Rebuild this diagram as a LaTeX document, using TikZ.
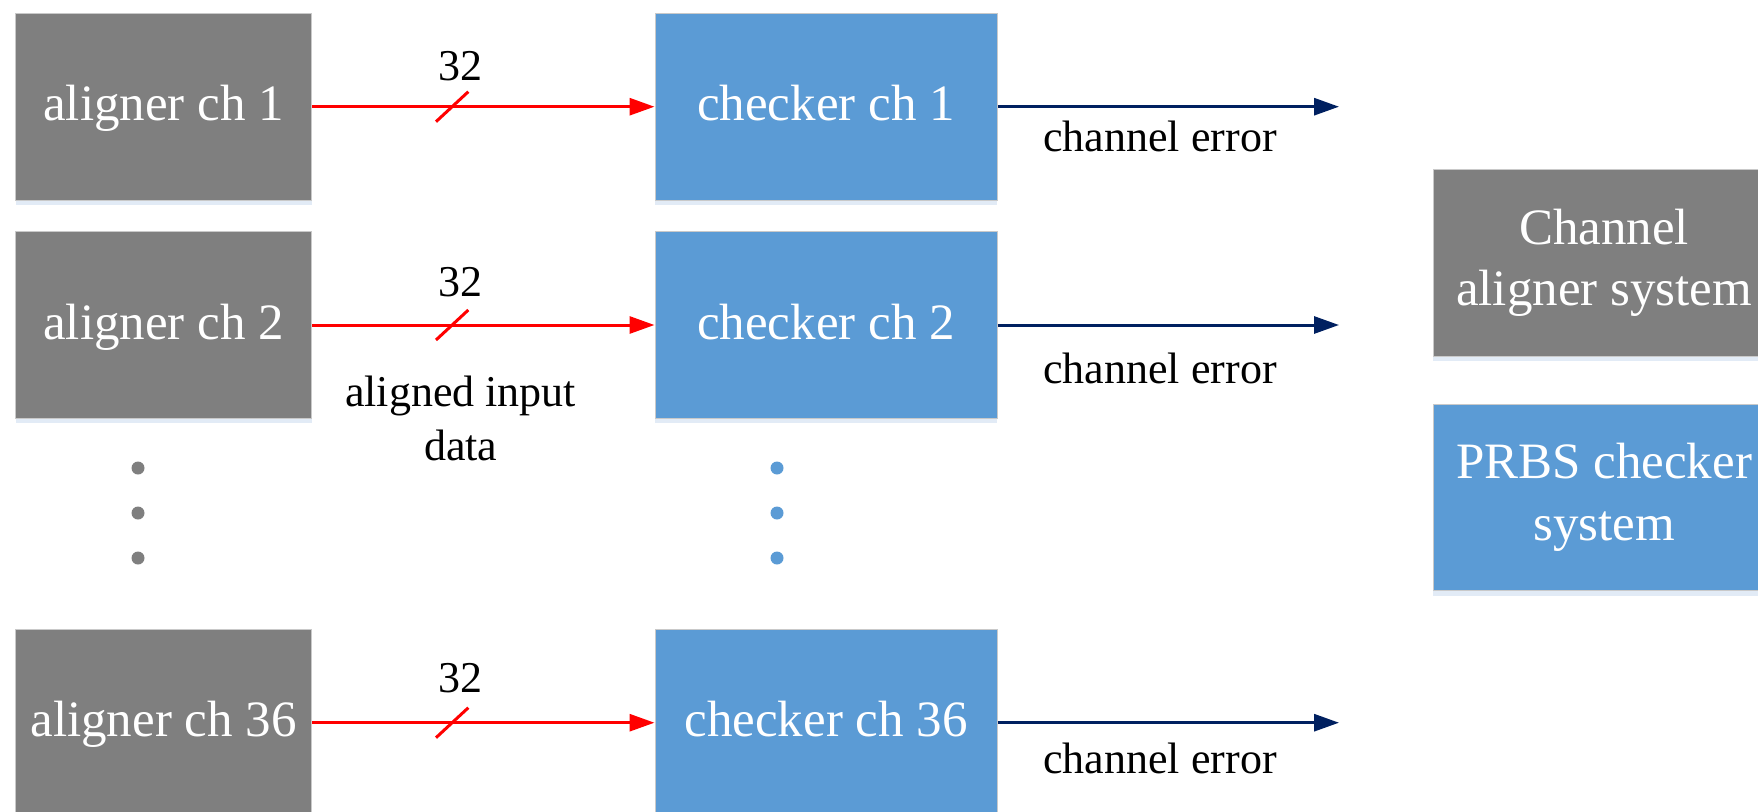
\documentclass[tikz,border=0pt]{standalone}
\usepackage{fontspec}
\setmainfont{Liberation Serif}
\usetikzlibrary{arrows.meta,shadows}
\definecolor{boxgray}{HTML}{7F7F7F}
\definecolor{boxblue}{HTML}{5B9BD5}
\definecolor{navy}{HTML}{002060}
\definecolor{edgegray}{HTML}{C9C9C9}
\definecolor{shade}{HTML}{C5D8EE}
\tikzset{
  blk/.style={rectangle, draw=edgegray, line width=1pt, text=white,
    minimum height=186.7pt, inner sep=0pt, align=center,
    font=\fontsize{51}{61.5}\selectfont,
    drop shadow={shadow xshift=0pt, shadow yshift=-5pt, fill=shade, opacity=0.5}},
  chbox/.style={blk, text height=38pt, text depth=10pt},
  aligner/.style={chbox, fill=boxgray, minimum width=296pt},
  checker/.style={chbox, fill=boxblue, minimum width=342pt},
  lbl/.style={font=\fontsize{44}{53.7}\selectfont, inner sep=0pt, align=center},
  databus/.style={draw=red, line width=3pt, -{Triangle[length=25pt,width=17pt]}},
  errline/.style={draw=navy, line width=3pt, -{Triangle[length=25pt,width=17pt]}},
  slashmark/.style={draw=red, line width=3pt},
  dotg/.style={circle, fill=boxgray, minimum size=13pt, inner sep=0pt},
  dotb/.style={circle, fill=boxblue, minimum size=13pt, inner sep=0pt},
}
\begin{document}
\begin{tikzpicture}[x=1pt,y=-1pt]
\useasboundingbox (0,0) rectangle (1758,811);
\clip (0,0) rectangle (1758,811);
% blocks
\node[aligner] (a1)  at (163.6,106.7) {aligner ch 1};
\node[aligner] (a2)  at (163.6,325)   {aligner ch 2};
\node[aligner] (a36) at (163.6,722.7) {aligner ch 36};
\node[checker] (c1)  at (826,106.7) {checker ch 1};
\node[checker] (c2)  at (826,325)   {checker ch 2};
\node[checker] (c36) at (826,722.7) {checker ch 36};
\node[blk, fill=boxgray, minimum width=342pt] (lg1) at (1604,263) {Channel\\aligner system};
\node[blk, fill=boxblue, minimum width=342pt] (lg2) at (1604,497.5) {PRBS checker\\system};
% output ends
\coordinate (e1)  at (1339,106.7);
\coordinate (e2)  at (1339,325);
\coordinate (e36) at (1339,722.7);
% connectors
\draw[databus] (a1.east)  -- (c1.west);
\draw[databus] (a2.east)  -- (c2.west);
\draw[databus] (a36.east) -- (c36.west);
\draw[errline] (c1.east)  -- (e1);
\draw[errline] (c2.east)  -- (e2);
\draw[errline] (c36.east) -- (e36);
% bus slashes
\foreach \y in {106.7,325,722.7}{
  \draw[slashmark] (436,\y+15) -- (468.3,\y-15);
}
% labels
\node[lbl, anchor=base] (w1)  at (460,80)    {32};
\node[lbl, anchor=base] (w2)  at (460,296)   {32};
\node[lbl, anchor=base] (w36) at (460,692)   {32};
\node[lbl, anchor=base] (ce1)  at (1160,151.7) {channel error};
\node[lbl, anchor=base] (ce2)  at (1160,383.3) {channel error};
\node[lbl, anchor=base] (ce36) at (1160,773.3) {channel error};
\node[lbl] (aid) at (460.7,418.5) {aligned input\\data};
% ellipsis dots
\node[dotg] (g1) at (138,468) {};
\node[dotg] (g2) at (138,513) {};
\node[dotg] (g3) at (138,558) {};
\node[dotb] (b1) at (777,468) {};
\node[dotb] (b2) at (777,513) {};
\node[dotb] (b3) at (777,558) {};
\end{tikzpicture}
\end{document}
